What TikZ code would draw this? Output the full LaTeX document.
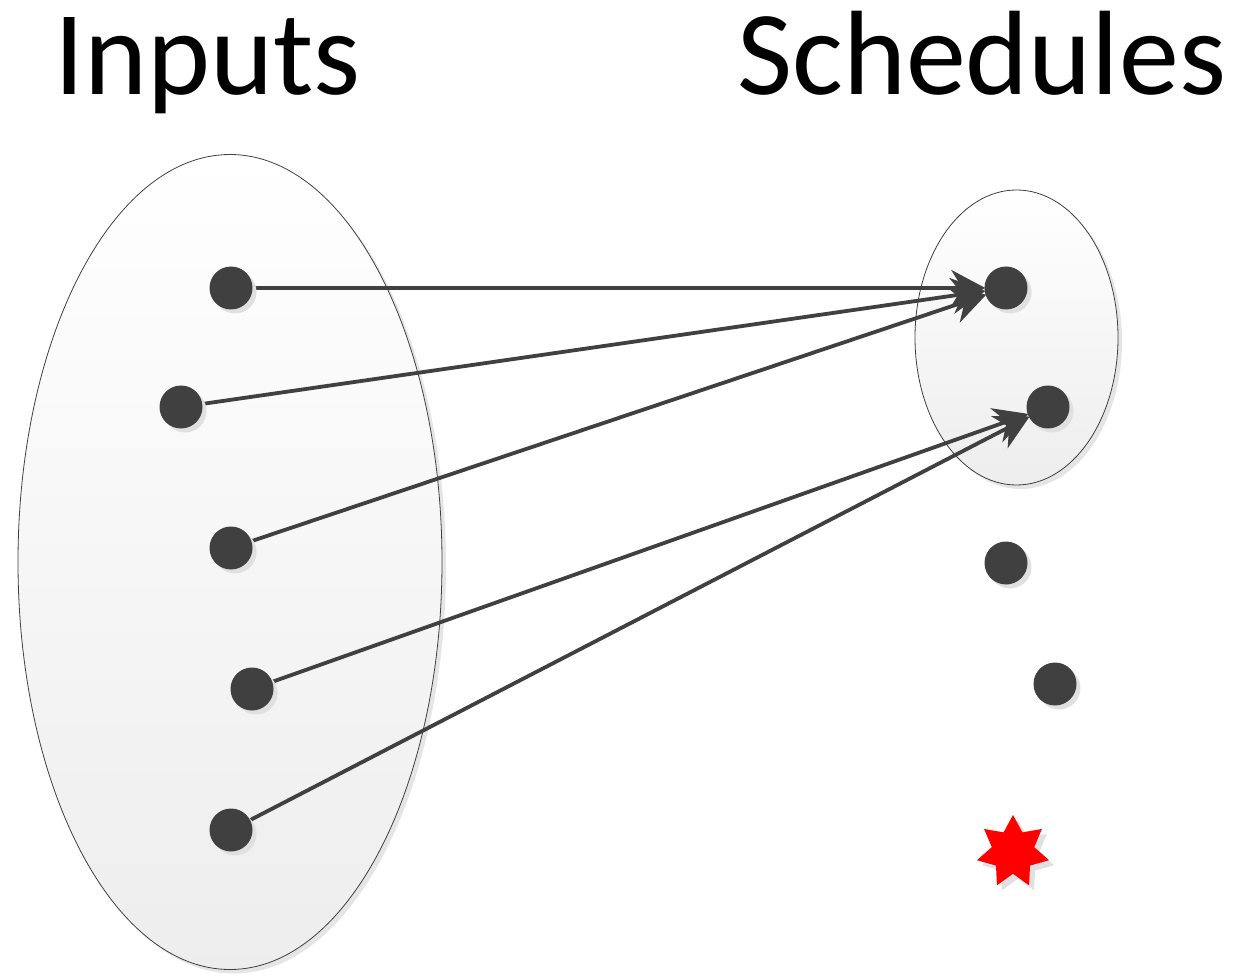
\documentclass[tikz,border=0pt]{standalone}
\usepackage{fontspec}
\setmainfont{Carlito}
\usetikzlibrary{shapes.geometric,shadows,arrows.meta}
\definecolor{ink}{HTML}{404040}
\tikzset{
  setbox/.style={ellipse, draw=ink, line width=0.8pt, top color=white, bottom color=black!7,
    drop shadow={shadow xshift=4pt, shadow yshift=-4pt, fill=black!10, opacity=1}},
  elem/.style={circle, fill=ink, inner sep=0pt, minimum size=43pt,
    drop shadow={shadow xshift=4pt, shadow yshift=-4pt, fill=black!12, opacity=1}},
  maps/.style={draw=ink, line width=3.8pt,
    -{Stealth[length=34pt, width=36pt, inset=11pt]}, shorten >=-1pt},
  title/.style={font=\fontsize{120}{134}\selectfont, anchor=base west, inner sep=0pt}
}
\begin{document}
\begin{tikzpicture}[x=1pt,y=-1pt]
  \useasboundingbox (0,0) rectangle (1235,976);
  % titles
  \node[title] (tin) at (54,95) {Inputs};
  \node[title] (tsch) at (737,95) {Schedules};
  % the two sets
  \node[setbox, minimum width=424pt, minimum height=815pt] (inset) at (230,562) {};
  \node[setbox, minimum width=203pt, minimum height=295pt] (outset) at (1016.5,337.5) {};
  % element positions
  \coordinate (pl1) at (231,288);
  \coordinate (pl2) at (181,407);
  \coordinate (pl3) at (231,548);
  \coordinate (pl4) at (252,689);
  \coordinate (pl5) at (231,830);
  % schedules
  \node[elem] (r1) at (1006,288) {};
  \node[elem] (r2) at (1048,407) {};
  \node[elem] (r3) at (1006,563) {};
  \node[elem] (r4) at (1055,684) {};
  \node[star, star points=7, star point ratio=1.7, minimum size=74pt, inner sep=0pt,
        fill=red, drop shadow={shadow xshift=5pt, shadow yshift=-5pt, fill=black!12, opacity=1}]
        (bad) at (1013,852) {};
  % mappings (drawn under the input elements)
  \draw[maps] (pl1) -- (r1);
  \draw[maps] (pl2) -- (r1);
  \draw[maps] (pl3) -- (r1);
  \draw[maps] (pl4) -- (r2);
  \draw[maps] (pl5) -- (r2);
  % inputs
  \node[elem] (l1) at (pl1) {};
  \node[elem] (l2) at (pl2) {};
  \node[elem] (l3) at (pl3) {};
  \node[elem] (l4) at (pl4) {};
  \node[elem] (l5) at (pl5) {};
\end{tikzpicture}
\end{document}
